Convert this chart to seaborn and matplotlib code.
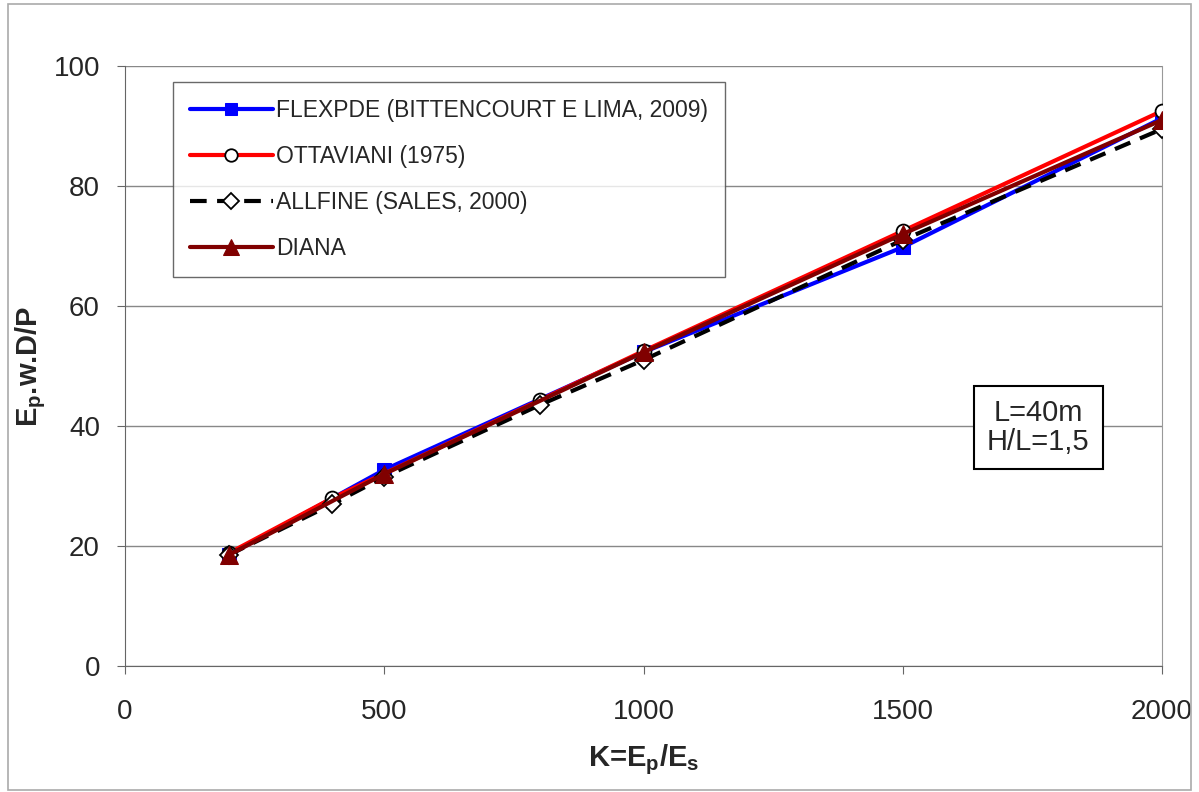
import pandas as pd
import numpy as np
import seaborn as sns
import matplotlib.pyplot as plt
from matplotlib.patches import Rectangle

# values
flex_k = [200, 500, 1000, 1500, 2000]
flex_v = [18.5, 32.7, 52.3, 69.8, 91.3]

otta_k = [200, 400, 800, 1000, 1500, 2000]
otta_v = [18.8, 28.0, 44.3, 52.5, 72.5, 92.5]

allf_k = [200, 400, 500, 800, 1000, 1500, 2000]
allf_v = [18.5, 27.0, 31.5, 43.5, 51.0, 71.0, 89.5]

diana_k = [200, 500, 1000, 1500, 2000]
diana_v = [18.5, 32.0, 52.3, 72.0, 91.0]

names = ["FLEXPDE (BITTENCOURT E LIMA, 2009)", "OTTAVIANI (1975)",
         "ALLFINE (SALES, 2000)", "DIANA"]

sns.set_style("white")
plt.rcParams['font.family'] = ['Liberation Sans', 'DejaVu Sans']
plt.rcParams['mathtext.fontset'] = 'custom'
plt.rcParams['mathtext.default'] = 'bf'
plt.rcParams['mathtext.rm'] = 'Liberation Sans:bold'
plt.rcParams['mathtext.bf'] = 'Liberation Sans:bold'

fig = plt.figure(figsize=(11.99, 7.92), dpi=100)
ax = fig.add_axes([125 / 1199, 1 - 666 / 792, (1162 - 125) / 1199, 600 / 792])

fig.patches.append(Rectangle((8 / 1199, 0.002), 1 - 16 / 1199, 0.993, transform=fig.transFigure,
                             fill=False, edgecolor='#aaaaaa', lw=1.2))

df_flex = pd.DataFrame({'K': flex_k, 'v': flex_v})
df_otta = pd.DataFrame({'K': otta_k, 'v': otta_v})
df_allf = pd.DataFrame({'K': allf_k, 'v': allf_v})
df_diana = pd.DataFrame({'K': diana_k, 'v': diana_v})

sns.lineplot(data=df_flex, x='K', y='v', ax=ax, color='#0000ff', lw=3, marker='s',
             markersize=10, markeredgecolor='#0000ff', label=names[0], zorder=3)
sns.lineplot(data=df_otta, x='K', y='v', ax=ax, color='#ff0000', lw=3, marker='o',
             markersize=10, markerfacecolor='white', markeredgecolor='black',
             markeredgewidth=1.3, label=names[1], zorder=4)
sns.lineplot(data=df_allf, x='K', y='v', ax=ax, color='black', lw=3, marker='D',
             markersize=9, markerfacecolor='white', markeredgecolor='black',
             markeredgewidth=1.3, dashes=(4, 2.5), label=names[2], zorder=5)
sns.lineplot(data=df_diana, x='K', y='v', ax=ax, color='#800000', lw=3, marker='^',
             markersize=13, markeredgecolor='#800000', label=names[3], zorder=6)

ax.set_xlim(0, 2000)
ax.set_ylim(0, 100)
ax.set_xticks(np.arange(0, 2001, 500))
ax.set_yticks(np.arange(0, 101, 20))
ax.tick_params(axis='both', labelsize=20, length=6, color='#666666', direction='out',
               left=True, bottom=True)
ax.tick_params(axis='y', pad=12)
ax.tick_params(axis='x', pad=18)
ax.grid(axis='y', color='#888888', lw=1)
ax.grid(axis='x', visible=False)
for s in ['left', 'bottom']:
    ax.spines[s].set_color('#666666')
ax.spines['right'].set_color('#999999')
ax.spines['top'].set_visible(False)

ax.set_xlabel(r"K=E$_p$/E$_s$", fontsize=21, fontweight='bold', labelpad=12)
ax.set_ylabel(r"E$_p$.w.D/P", fontsize=21, fontweight='bold', labelpad=4)

leg = ax.legend(loc='upper left', bbox_to_anchor=(48 / 1037, 584 / 600), fontsize=16.5,
                frameon=True, fancybox=False, edgecolor='#444444', handlelength=3.6,
                labelspacing=1.0, borderpad=0.75, handletextpad=0.15, markerscale=0.9,
                borderaxespad=0)
leg.get_frame().set_linewidth(1)

ax.text(1761, 39.8, "L=40m\nH/L=1,5", fontsize=21, ha='center', va='center',
        linespacing=1.05,
        bbox=dict(boxstyle='square,pad=0.45', fc='white', ec='black', lw=1.5))

plt.savefig("out.png", dpi=100)
plt.close()
